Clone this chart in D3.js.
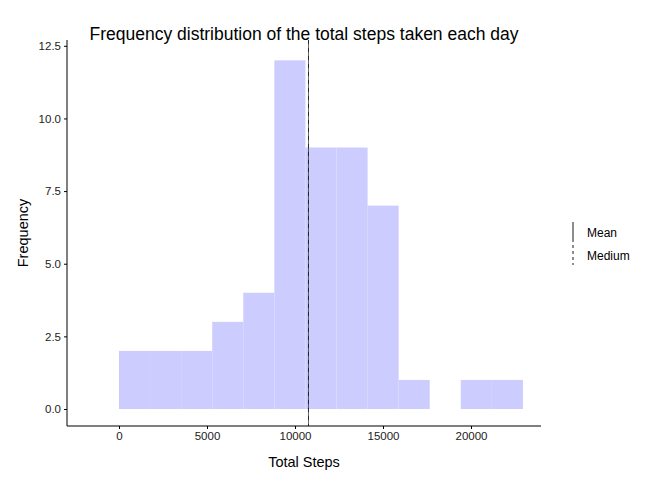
<!DOCTYPE html>
<html><head><meta charset="utf-8">
<script src="https://cdn.jsdelivr.net/npm/d3@7"></script>
<style>body{margin:0;background:#fff}text{font-family:"Liberation Sans",Arial,sans-serif}</style>
</head><body><div id="chart"></div>
<script>
const binWidth = 1765.4;
const binStarts = d3.range(13).map(i => i * binWidth);
const counts = [2, 2, 2, 3, 4, 12, 9, 9, 7, 1, 0, 1, 1];
const meanSteps = 10766;
const medianSteps = 10765;
const xTicks = [0, 5000, 10000, 15000, 20000];
const yTicks = [0, 2.5, 5, 7.5, 10, 12.5];

const svg = d3.select("#chart").append("svg").attr("width", 672).attr("height", 480);

const x = d3.scaleLinear().domain([-2955, 23977]).range([67, 541]);
const y = d3.scaleLinear().domain([-0.585, 12.7]).range([426, 40]);

svg.selectAll("rect.bar").data(counts).enter().append("rect")
    .attr("x", (d, i) => x(binStarts[i]))
    .attr("width", x(binWidth) - x(0))
    .attr("y", d => y(d))
    .attr("height", d => y(0) - y(d))
    .attr("fill", "#ccccff");

svg.append("line").attr("x1", x(meanSteps)).attr("x2", x(meanSteps))
    .attr("y1", 40).attr("y2", 426).attr("stroke", "#000").attr("stroke-width", 0.6);
svg.append("line").attr("x1", x(medianSteps)).attr("x2", x(medianSteps))
    .attr("y1", 40).attr("y2", 426).attr("stroke", "#000").attr("stroke-width", 0.6)
    .attr("stroke-dasharray", "4,4");

const xAxis = svg.append("g").attr("transform", "translate(0,426)")
    .call(d3.axisBottom(x).tickValues(xTicks).tickSize(3).tickFormat(d3.format("d")));
const yAxis = svg.append("g").attr("transform", "translate(67,0)")
    .call(d3.axisLeft(y).tickValues(yTicks).tickSize(3).tickFormat(d3.format(".1f")));
[xAxis, yAxis].forEach(a => {
    a.select(".domain").attr("d", null);
    a.selectAll("text").attr("font-size", 11.5).attr("fill", "#222");
});
svg.append("line").attr("x1", 67).attr("x2", 541).attr("y1", 426).attr("y2", 426).attr("stroke", "#000");
svg.append("line").attr("x1", 67).attr("x2", 67).attr("y1", 40).attr("y2", 426).attr("stroke", "#000");

svg.append("text").attr("x", 304).attr("y", 40).attr("text-anchor", "middle")
    .attr("font-size", 17.5).text("Frequency distribution of the total steps taken each day");
svg.append("text").attr("x", 304).attr("y", 467).attr("text-anchor", "middle")
    .attr("font-size", 14.5).text("Total Steps");
svg.append("text").attr("transform", "translate(28,233) rotate(-90)").attr("text-anchor", "middle")
    .attr("font-size", 14.5).text("Frequency");

const legend = [["Mean", null], ["Medium", "3,3"]];
legend.forEach((d, i) => {
    const yy = 233 + i * 23;
    svg.append("line").attr("x1", 573).attr("x2", 573).attr("y1", yy - 11).attr("y2", yy + 9)
        .attr("stroke", "#000").attr("stroke-width", 0.9).attr("stroke-dasharray", d[1]);
    svg.append("text").attr("x", 587).attr("y", yy + 4).attr("font-size", 12).text(d[0]);
});
</script></body></html>
